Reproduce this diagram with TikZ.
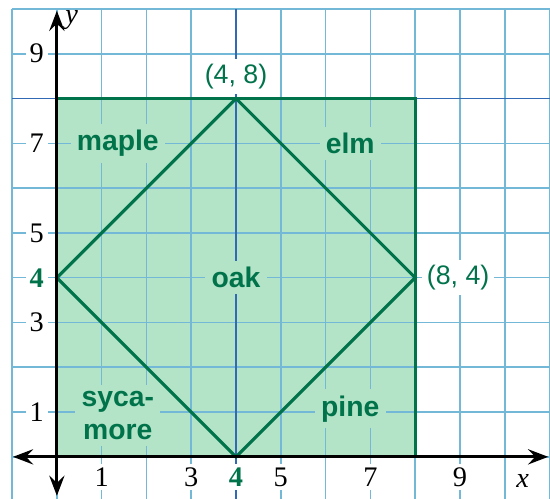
\documentclass[tikz,border=0pt]{standalone}
\usepackage{fontspec}
\setmainfont{Liberation Serif}
\newfontfamily\labelfont{Liberation Sans}
\usetikzlibrary{arrows.meta, positioning}

\definecolor{gridblue}{RGB}{115,185,215}
\definecolor{darkblue}{RGB}{50,105,180}
\definecolor{regionfill}{RGB}{180,228,200}
\definecolor{treegreen}{RGB}{0,115,75}

\begin{document}
\begin{tikzpicture}[
    gridline/.style={gridblue, line width=1pt},
    mainline/.style={darkblue, line width=1pt},
    border/.style={treegreen, line width=2pt},
    axis/.style={
        {Stealth[length=4.5mm, width=3.4mm, inset=1.6mm]}-{Stealth[length=4.5mm, width=3.4mm, inset=1.6mm]},
        line width=1.8pt
    },
    tick/.style={fill=white, inner sep=2.5pt, font=\fontsize{18}{20}\selectfont},
    tree/.style={
        fill=regionfill,
        inner sep=4pt,
        text=treegreen,
        align=center,
        font=\labelfont\bfseries\fontsize{18}{21}\selectfont
    },
    point/.style={fill=white, inner sep=3pt, text=treegreen, font=\labelfont\fontsize{17}{19}\selectfont}
]
\useasboundingbox (-1.27,-0.92) rectangle (11.01,10.2);
\clip (-1.27,-0.92) rectangle (11.01,10.2);

% === Points ===
\coordinate (O) at (0,0);
\coordinate (corner) at (8,8);
\coordinate (west) at (0,4);
\coordinate (north) at (4,8);
\coordinate (east) at (8,4);
\coordinate (south) at (4,0);
\coordinate (xmin) at (-0.98,0);
\coordinate (xmax) at (10.97,0);
\coordinate (ymin) at (0,-0.87);
\coordinate (ymax) at (0,9.96);

% === Region ===
\fill[regionfill] (O) rectangle (corner);

% === Grid ===
\foreach \i in {-1,...,11}
    \draw[gridline] (\i,-1) -- (\i,10);
\foreach \j in {-1,...,10}
    \draw[gridline] (-1,\j) -- (11.2,\j);
\draw[mainline] (4,-1) -- (4,10);
\draw[mainline] (-1,8) -- (11.2,8);

% === Region border and diamond ===
\draw[border] (O) rectangle (corner);
\draw[border, line join=miter] (west) -- (north) -- (east) -- (south) -- cycle;

% === Axes ===
\draw[axis] (xmin) -- (xmax);
\draw[axis] (ymin) -- (ymax);

% === Tick labels ===
\foreach \i in {1,3,5,7,9} {
    \node[tick] (xt\i) at (\i,-0.45) {\i};
    \node[tick] (yt\i) at (-0.45,\i) {\i};
}
\node[tick, text=treegreen, font=\fontsize{18}{20}\selectfont\bfseries] (xt4) at (4,-0.45) {4};
\node[tick, text=treegreen, font=\fontsize{18}{20}\selectfont\bfseries] (yt4) at (-0.45,4) {4};
\node[font=\fontsize{18}{20}\selectfont\itshape] (xlabel) at (10.4,-0.53) {x};
\node[font=\fontsize{18}{20}\selectfont\itshape] (ylabel) at (0.33,9.75) {y};

% === Point labels ===
\node[point, above=0.1cm of north] (northlabel) {(4, 8)};
\node[point, right=0.15cm of east] (eastlabel) {(8, 4)};

% === Tree labels ===
\node[tree] (maple) at (1.36,7) {maple};
\node[tree] (elm) at (6.55,7) {elm};
\node[tree] (oak) at (4,4) {oak};
\node[tree] (sycamore) at (1.36,0.93) {syca-\\more};
\node[tree] (pine) at (6.55,1.07) {pine};

\end{tikzpicture}
\end{document}
